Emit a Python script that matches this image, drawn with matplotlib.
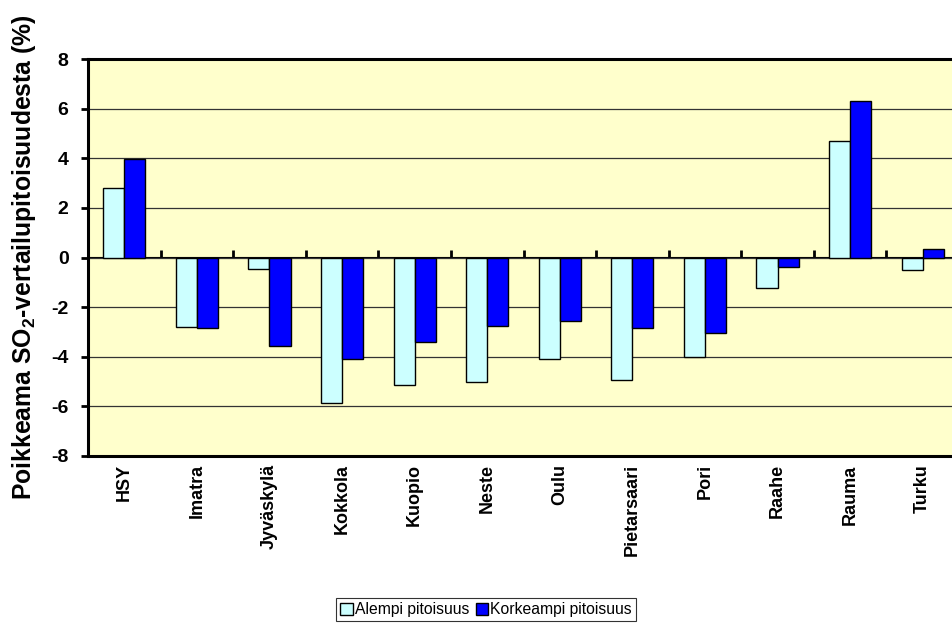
import numpy as np
import matplotlib
matplotlib.use("Agg")
import matplotlib.pyplot as plt

plt.rcParams['font.family'] = ['Liberation Sans', 'DejaVu Sans']
plt.rcParams['mathtext.fontset'] = 'custom'
plt.rcParams['mathtext.rm'] = 'Liberation Sans:bold'
plt.rcParams['mathtext.bf'] = 'Liberation Sans:bold'
plt.rcParams['axes.unicode_minus'] = False

# laitokset ja poikkeamat (%)
paikat = ["HSY", "Imatra", "Jyväskylä", "Kokkola", "Kuopio", "Neste",
          "Oulu", "Pietarsaari", "Pori", "Raahe", "Rauma", "Turku"]
alempi = [2.8, -2.8, -0.45, -5.85, -5.13, -5.02, -4.09, -4.95, -4.01, -1.22, 4.7, -0.5]
korkeampi = [3.98, -2.83, -3.57, -4.08, -3.39, -2.78, -2.55, -2.86, -3.04, -0.4, 6.32, 0.36]
yticks = [-8, -6, -4, -2, 0, 2, 4, 6, 8]

fig = plt.figure(figsize=(9.52, 6.24), dpi=100)
ax = fig.add_axes([88/952, 1 - 456/624, 871/952, 397/624])
ax.set_facecolor('#FFFFCC')

x = np.arange(len(paikat))
w = 0.29
ax.bar(x - w/2, alempi, w, color='#CCFFFF', edgecolor='black', linewidth=1,
       label='Alempi pitoisuus', zorder=3)
ax.bar(x + w/2, korkeampi, w, color='#0000FF', edgecolor='black', linewidth=1,
       label='Korkeampi pitoisuus', zorder=3)

ax.set_xlim(-0.5, len(paikat) - 0.5)
ax.set_ylim(-8, 8)
ax.set_yticks(yticks)
ax.yaxis.grid(True, color='#333333', linewidth=0.9, zorder=1)
ax.set_axisbelow(True)

for s in ax.spines.values():
    s.set_linewidth(2.2)

ax.tick_params(axis='y', direction='out', length=5, width=2, pad=9, labelsize=14)
for t in ax.get_yticklabels():
    t.set_fontweight('bold')

ax.set_xticks(x)
ax.set_xticklabels(paikat, rotation=90, fontsize=13, fontweight='bold', va='top')
ax.tick_params(axis='x', length=0, pad=6)

# nollaviiva luokkarajojen merkeillä
nolla = ax.secondary_xaxis(0.5)
nolla.spines['bottom'].set_linewidth(2.2)
nolla.set_xticks(np.arange(len(paikat)) + 0.5, labels=[''] * len(paikat))
nolla.tick_params(axis='x', direction='out', length=5, width=2)

ax.set_ylabel('Poikkeama SO$_2$-vertailupitoisuudesta (%)', fontsize=17.8,
              fontweight='bold')
ax.yaxis.set_label_coords(-0.057, 0.5)

leg = fig.legend(loc='lower center', bbox_to_anchor=(486/952, 3/624), ncol=2,
                 fontsize=11.3, frameon=True, fancybox=False, handlelength=0.8,
                 handleheight=0.8, handletextpad=0.15, columnspacing=0.4,
                 borderpad=0.25, borderaxespad=0)
leg.get_frame().set_edgecolor('black')
leg.get_frame().set_linewidth(0.8)

fig.savefig('out.png', dpi=100)
